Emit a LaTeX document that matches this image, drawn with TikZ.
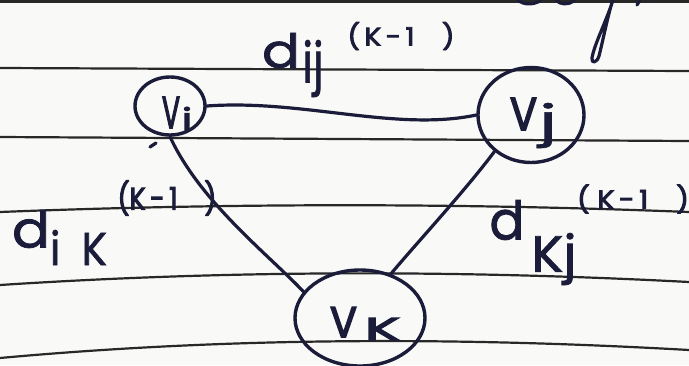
\documentclass[tikz,border=0pt]{standalone}
\usepackage{fontspec}
\usepackage{graphicx}
\usetikzlibrary{shapes.geometric}
\newfontfamily\handfont{Poppins}[FakeBold=1.5]
\newfontfamily\handfontheavy{Poppins}[FakeBold=3.5]
\definecolor{ink}{RGB}{26,28,58}
\definecolor{ruling}{RGB}{40,40,40}
\definecolor{paper}{RGB}{249,249,247}
% a glyph group squeezed into a box of given width and total height (pt)
\newcommand{\hw}[3]{\resizebox*{#1pt}{#2pt}{\handfont #3}}
% the same for groups that are stretched thin and need a heavier pen
\newcommand{\hwh}[3]{\resizebox*{#1pt}{#2pt}{\handfontheavy #3}}
\begin{document}
\begin{tikzpicture}[x=1pt,y=-1pt,
  ruleline/.style={ruling, line width=2.2pt},
  inkline/.style={ink, line width=3.2pt, line cap=round, line join=round},
  vertex/.style={ellipse, draw=ink, line width=3.4pt, inner sep=0pt},
  glyph/.style={inner sep=0pt, text=ink}]
\fill[paper] (0,0) rectangle (689,365);
\useasboundingbox (0,0) rectangle (689,365);

% ruled paper
\draw[ruleline] (0,1.5) -- (689,1.5);
\draw[ruleline] (0,68) -- (689,71);
\draw[ruleline] (0,137) -- (689,141);
\draw[ruleline] (0,212) .. controls (230,203) and (460,203) .. (689,212);
\draw[ruleline] (0,285) .. controls (230,270) and (460,270) .. (689,282);
\draw[ruleline] (0,358) .. controls (230,337) and (460,337) .. (689,350);

% tail of the writing on the line above
\draw[inkline] (613,0) .. controls (606,22) and (594,45) .. (592,58)
  .. controls (591,64) and (597,63) .. (599,56)
  .. controls (603,40) and (607,20) .. (611,6);
\draw[inkline] (518,0) .. controls (523,5) and (533,5) .. (540,1);
\draw[inkline] (556,0) .. controls (560,5) and (568,5) .. (574,1);
\draw[inkline] (640,0) -- (637,5);

% vertices
\node[vertex, minimum width=70pt, minimum height=58pt] (vi) at (170,106) {};
\node[vertex, minimum width=106pt, minimum height=95pt] (vj) at (531,115) {};
\node[vertex, minimum width=130pt, minimum height=96pt] (vk) at (360,318) {};

\node[glyph] (vi-v) at (171,112.5) {\hwh{18}{31}{V}};
\node[glyph] (vi-i) at (187,118.5) {\hwh{10}{23}{i}};
\node[glyph] (vj-v) at (523.5,114) {\hwh{27}{32}{V}};
\node[glyph] (vj-j) at (548,125.5) {\hw{18}{45}{j}};
\node[glyph] (vk-v) at (343.5,322) {\hwh{27}{30}{V}};
\node[glyph] (vk-k) at (382.5,329) {\hwh{35}{22}{K}};

% edges
\draw[inkline] (vi.east) .. controls +(95,-7) and +(-80,17) .. (vj.west);
\draw[inkline] (vi.south) .. controls +(30,65) and +(-35,-37) .. (vk.155);
\draw[inkline] (vj.225) .. controls +(-30,40) and +(25,-30) .. (vk.55);
\draw[inkline] (150,147) -- (156,143);

% edge weights
\node[glyph] (dij-d) at (281,50.5) {\hw{38}{35}{d}};
\node[glyph] (dij-sub) at (313,68.5) {\hw{21}{57}{ij}};
\node[glyph] (dij-sup) at (401,36) {\hwh{107}{28}{(\,K\,-\,1\quad)}};

\node[glyph] (dik-d) at (31,229) {\hw{38}{38}{d}};
\node[glyph] (dik-sub) at (78.5,247.5) {\hw{57}{35}{i\enspace K}};
\node[glyph] (dik-sup) at (167,198) {\hwh{99}{35}{(K\,-\,1\quad)}};

\node[glyph] (dkj-d) at (507,220) {\hw{35}{40}{d}};
\node[glyph] (dkj-sub) at (554,259) {\hw{45}{52}{Kj}};
\node[glyph] (dkj-sup) at (633,199) {\hwh{112}{29}{(\;K\,-\,1\quad)}};
\end{tikzpicture}
\end{document}
